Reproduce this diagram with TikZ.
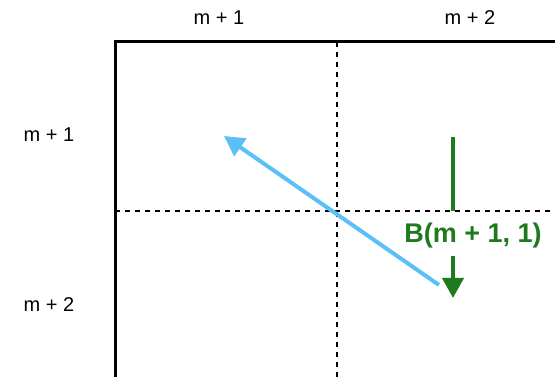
\documentclass[tikz,border=0pt]{standalone}
\usepackage{fontspec}
\setmainfont{Liberation Sans}
\usetikzlibrary{arrows.meta,positioning,calc}
\definecolor{colazul}{HTML}{5BBFF8}
\definecolor{colverde}{HTML}{1D7A1D}

\begin{document}
\begin{tikzpicture}[
  x=1pt, y=-1pt,
  font=\fontsize{20}{22}\selectfont,
  borde/.style={line width=3pt,line join=miter},
  rejilla/.style={line width=2pt,dash pattern=on 5pt off 5pt},
  flecha/.style={line width=4pt,-{Triangle[length=20pt,width=21pt]}},
  bloque/.style={font=\fontsize{27}{29}\selectfont\bfseries,colverde},
]
  \useasboundingbox (0,0) rectangle (555,377);

  \coordinate (O) at (115,42);
  \coordinate (Ab) at (115,377);
  \coordinate (De) at (555,42);

  % rejilla de bloques: solo el borde superior e izquierdo es continuo
  \draw[rejilla] (337,42) -- (337,377);
  \draw[rejilla] (115,211) -- (555,211);
  \draw[borde] (Ab) -- (O) -- (De);

  \node (c1) at (219,18) {m + 1};
  \node (c2) at (470,18) {m + 2};
  \node (f1) at (49,135) {m + 1};
  \node (f2) at (49,305) {m + 2};

  \coordinate (a0) at (439,285);
  \coordinate (a1) at (224,136);
  \draw[flecha,colazul] (a0) -- (a1);

  % la barra verde llega hasta la linea punteada, la flecha sale bajo el rotulo
  \coordinate (g0) at (453,137);
  \coordinate (g1) at (453,211);
  \draw[colverde,line width=4pt] (g0) -- (g1);
  \node[bloque] (B) at (473,236) {B(m + 1, 1)};
  \coordinate (g2) at (453,256);
  \coordinate (g3) at (453,298);
  \draw[flecha,colverde] (g2) -- (g3);
\end{tikzpicture}
\end{document}
